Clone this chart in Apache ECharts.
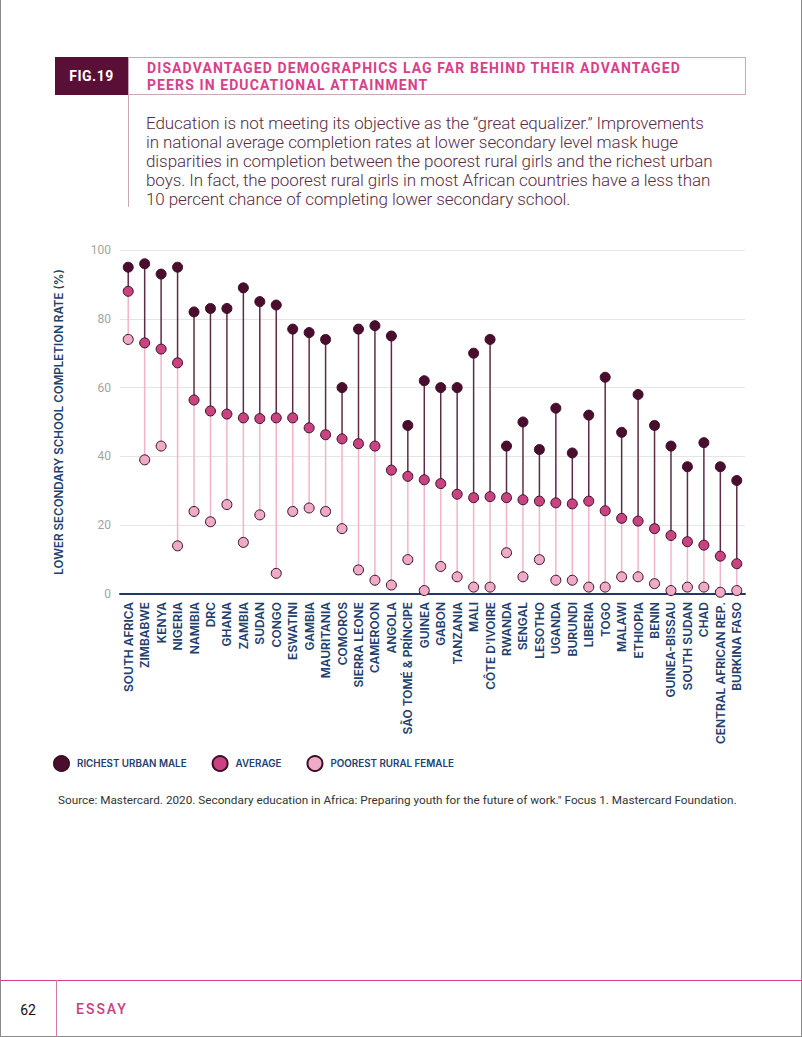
<!DOCTYPE html>
<html><head><meta charset="utf-8">
<script src="https://cdn.jsdelivr.net/npm/echarts@6/dist/echarts.min.js"></script>
<style>
html,body{margin:0;padding:0;background:#fff;}
#page{position:relative;width:802px;height:1037px;overflow:hidden;font-family:Roboto,"Noto Sans",sans-serif;}
#chart{position:absolute;left:0;top:0;width:802px;height:1037px;}
.abs{position:absolute;pointer-events:none;}
#frameL{left:0;top:0;width:1px;height:1037px;background:#8a8a8a;}
#frameR{left:801px;top:0;width:1px;height:1037px;background:#8a8a8a;}
#frameB{left:0;top:1036px;width:802px;height:1px;background:#8a8a8a;}
#figbox{left:55px;top:57px;width:73px;height:38px;background:#5a0f36;color:#fff;font-weight:700;font-size:14px;line-height:38px;text-align:center;letter-spacing:0.5px;}
#titlebox{left:128px;top:57px;width:616px;height:36px;border:1px solid #c9a9b9;}
#title{left:147px;top:60px;color:#d8408a;font-weight:700;font-size:14px;line-height:16.5px;letter-spacing:1.1px;}
#vline{left:128px;top:95px;width:1px;height:112px;background:#c9a9b9;}
#para{left:146px;top:114px;color:#5a2b46;font-weight:300;font-size:17px;line-height:19px;white-space:pre;letter-spacing:-0.08px;}
#source{left:58px;top:793px;color:#333;font-size:11.75px;white-space:pre;}
#footH{left:0;top:980px;width:802px;height:1px;background:#d8408a;}
#footV{left:56px;top:980px;width:1px;height:57px;background:#d27aa6;}
#pg{left:0;top:1002px;width:56px;text-align:center;font-size:14px;color:#111;}
#essay{left:76px;top:1001px;font-size:14px;color:#c8407f;letter-spacing:2px;font-weight:500;}
</style></head>
<body>
<div id="page">
<div id="chart"></div>
<div class="abs" id="frameL"></div><div class="abs" id="frameR"></div><div class="abs" id="frameB"></div>
<div class="abs" id="figbox">FIG.19</div>
<div class="abs" id="titlebox"></div>
<div class="abs" id="title">DISADVANTAGED DEMOGRAPHICS LAG FAR BEHIND THEIR ADVANTAGED<br>PEERS IN EDUCATIONAL ATTAINMENT</div>
<div class="abs" id="vline"></div>
<div class="abs" id="para">Education is not meeting its objective as the “great equalizer.” Improvements
in national average completion rates at lower secondary level mask huge
disparities in completion between the poorest rural girls and the richest urban
boys. In fact, the poorest rural girls in most African countries have a less than
10 percent chance of completing lower secondary school.</div>
<div class="abs" id="source">Source: Mastercard. 2020. Secondary education in Africa: Preparing youth for the future of work." Focus 1. Mastercard Foundation.</div>
<div class="abs" id="footH"></div><div class="abs" id="footV"></div>
<div class="abs" id="pg">62</div>
<div class="abs" id="essay">ESSAY</div>
</div>
<script>
const countries = ["SOUTH AFRICA","ZIMBABWE","KENYA","NIGERIA","NAMIBIA","DRC","GHANA","ZAMBIA","SUDAN","CONGO","ESWATINI","GAMBIA","MAURITANIA","COMOROS","SIERRA LEONE","CAMEROON","ANGOLA","SÃO TOMÉ & PRÍNCIPE","GUINEA","GABON","TANZANIA","MALI","CÔTE D'IVOIRE","RWANDA","SENGAL","LESOTHO","UGANDA","BURUNDI","LIBERIA","TOGO","MALAWI","ETHIOPIA","BENIN","GUINEA-BISSAU","SOUTH SUDAN","CHAD","CENTRAL AFRICAN REP.","BURKINA FASO"];
const richestUrbanMale = [95,96,93,95,82,83,83,89,85,84,77,76,74,60,77,78,75,49,62,60,60,70,74,43,50,42,54,41,52,63,47,58,49,43,37,44,37,33];
const average = [88,73,71.2,67.2,56.4,53.2,52.3,51.2,51,51.2,51.2,48.3,46.3,45.1,43.7,43,36,34.2,33.2,32.1,29,28,28.3,28,27.4,27,26.5,26.2,27,24.2,22,21.2,19,17,15.2,14.2,11,8.8];
const poorestRuralFemale = [74,39,43,14,24,21,26,15,23,6,24,25,24,19,7,4,2.6,10,1,8,5,2,2,12,5,10,4,4,2,2,5,5,3,1,2,2,0.5,1];
const yTicks = {min:0, max:100, interval:20};

const navy = '#22406e';
const chart = echarts.init(document.getElementById('chart'), null, {renderer:'svg'});
const ranges = countries.map((c,i)=>[i, richestUrbanMale[i], average[i], poorestRuralFemale[i]]);
const dotBorder = '#3a0f26';
chart.setOption({
  animation:false,
  grid:{left:120, right:57, top:250, bottom:443},
  legend:{
    left:53, top:755, padding:0, itemWidth:15, itemHeight:15, itemGap:25,
    icon:'circle',
    data:['RICHEST URBAN MALE','AVERAGE','POOREST RURAL FEMALE'],
    textStyle:{color:navy, fontSize:9.8, fontWeight:600, fontFamily:'Inter', padding:[0,0,0,3]}
  },
  xAxis:{
    type:'category', data:countries, boundaryGap:true,
    axisLine:{lineStyle:{color:'#1e3a68', width:2}},
    axisTick:{show:false},
    axisLabel:{rotate:90, interval:0, margin:8, color:navy, fontSize:12, fontWeight:600, fontFamily:'Inter'}
  },
  yAxis:{
    type:'value', min:yTicks.min, max:yTicks.max, interval:yTicks.interval,
    name:'LOWER SECONDARY SCHOOL COMPLETION RATE (%)', nameLocation:'middle', nameGap:55,
    nameTextStyle:{color:navy, fontSize:11.6, fontWeight:600, fontFamily:'Inter'},
    axisLine:{show:false}, axisTick:{show:false},
    axisLabel:{color:'#a3a3a3', fontSize:12, margin:9, fontFamily:'Roboto'},
    splitLine:{lineStyle:{color:'#e4e4e4', width:1}}
  },
  series:[
    {
      type:'custom', name:'ranges', data:ranges, encode:{x:0, y:[1,2,3]}, z:2, silent:true,
      renderItem:function(params, api){
        const x = api.value(0);
        const p1 = api.coord([x, api.value(1)]);
        const p2 = api.coord([x, api.value(2)]);
        const p3 = api.coord([x, api.value(3)]);
        return {type:'group', children:[
          {type:'line', shape:{x1:p2[0],y1:p2[1],x2:p3[0],y2:p3[1]}, style:{stroke:'#f2b4ca', lineWidth:1.5}},
          {type:'line', shape:{x1:p1[0],y1:p1[1],x2:p2[0],y2:p2[1]}, style:{stroke:'#5e2b45', lineWidth:1.5}}
        ]};
      }
    },
    {type:'scatter', name:'POOREST RURAL FEMALE', data:poorestRuralFemale, symbolSize:10, z:3,
      itemStyle:{color:'#eeaac6', borderColor:dotBorder, borderWidth:1, opacity:1}},
    {type:'scatter', name:'AVERAGE', data:average, symbolSize:10, z:4,
      itemStyle:{color:'#c8437f', borderColor:dotBorder, borderWidth:1, opacity:1}},
    {type:'scatter', name:'RICHEST URBAN MALE', data:richestUrbanMale, symbolSize:10, z:5,
      itemStyle:{color:'#4b0d2e', borderColor:dotBorder, borderWidth:1, opacity:1}}
  ]
});
</script>
</body></html>
